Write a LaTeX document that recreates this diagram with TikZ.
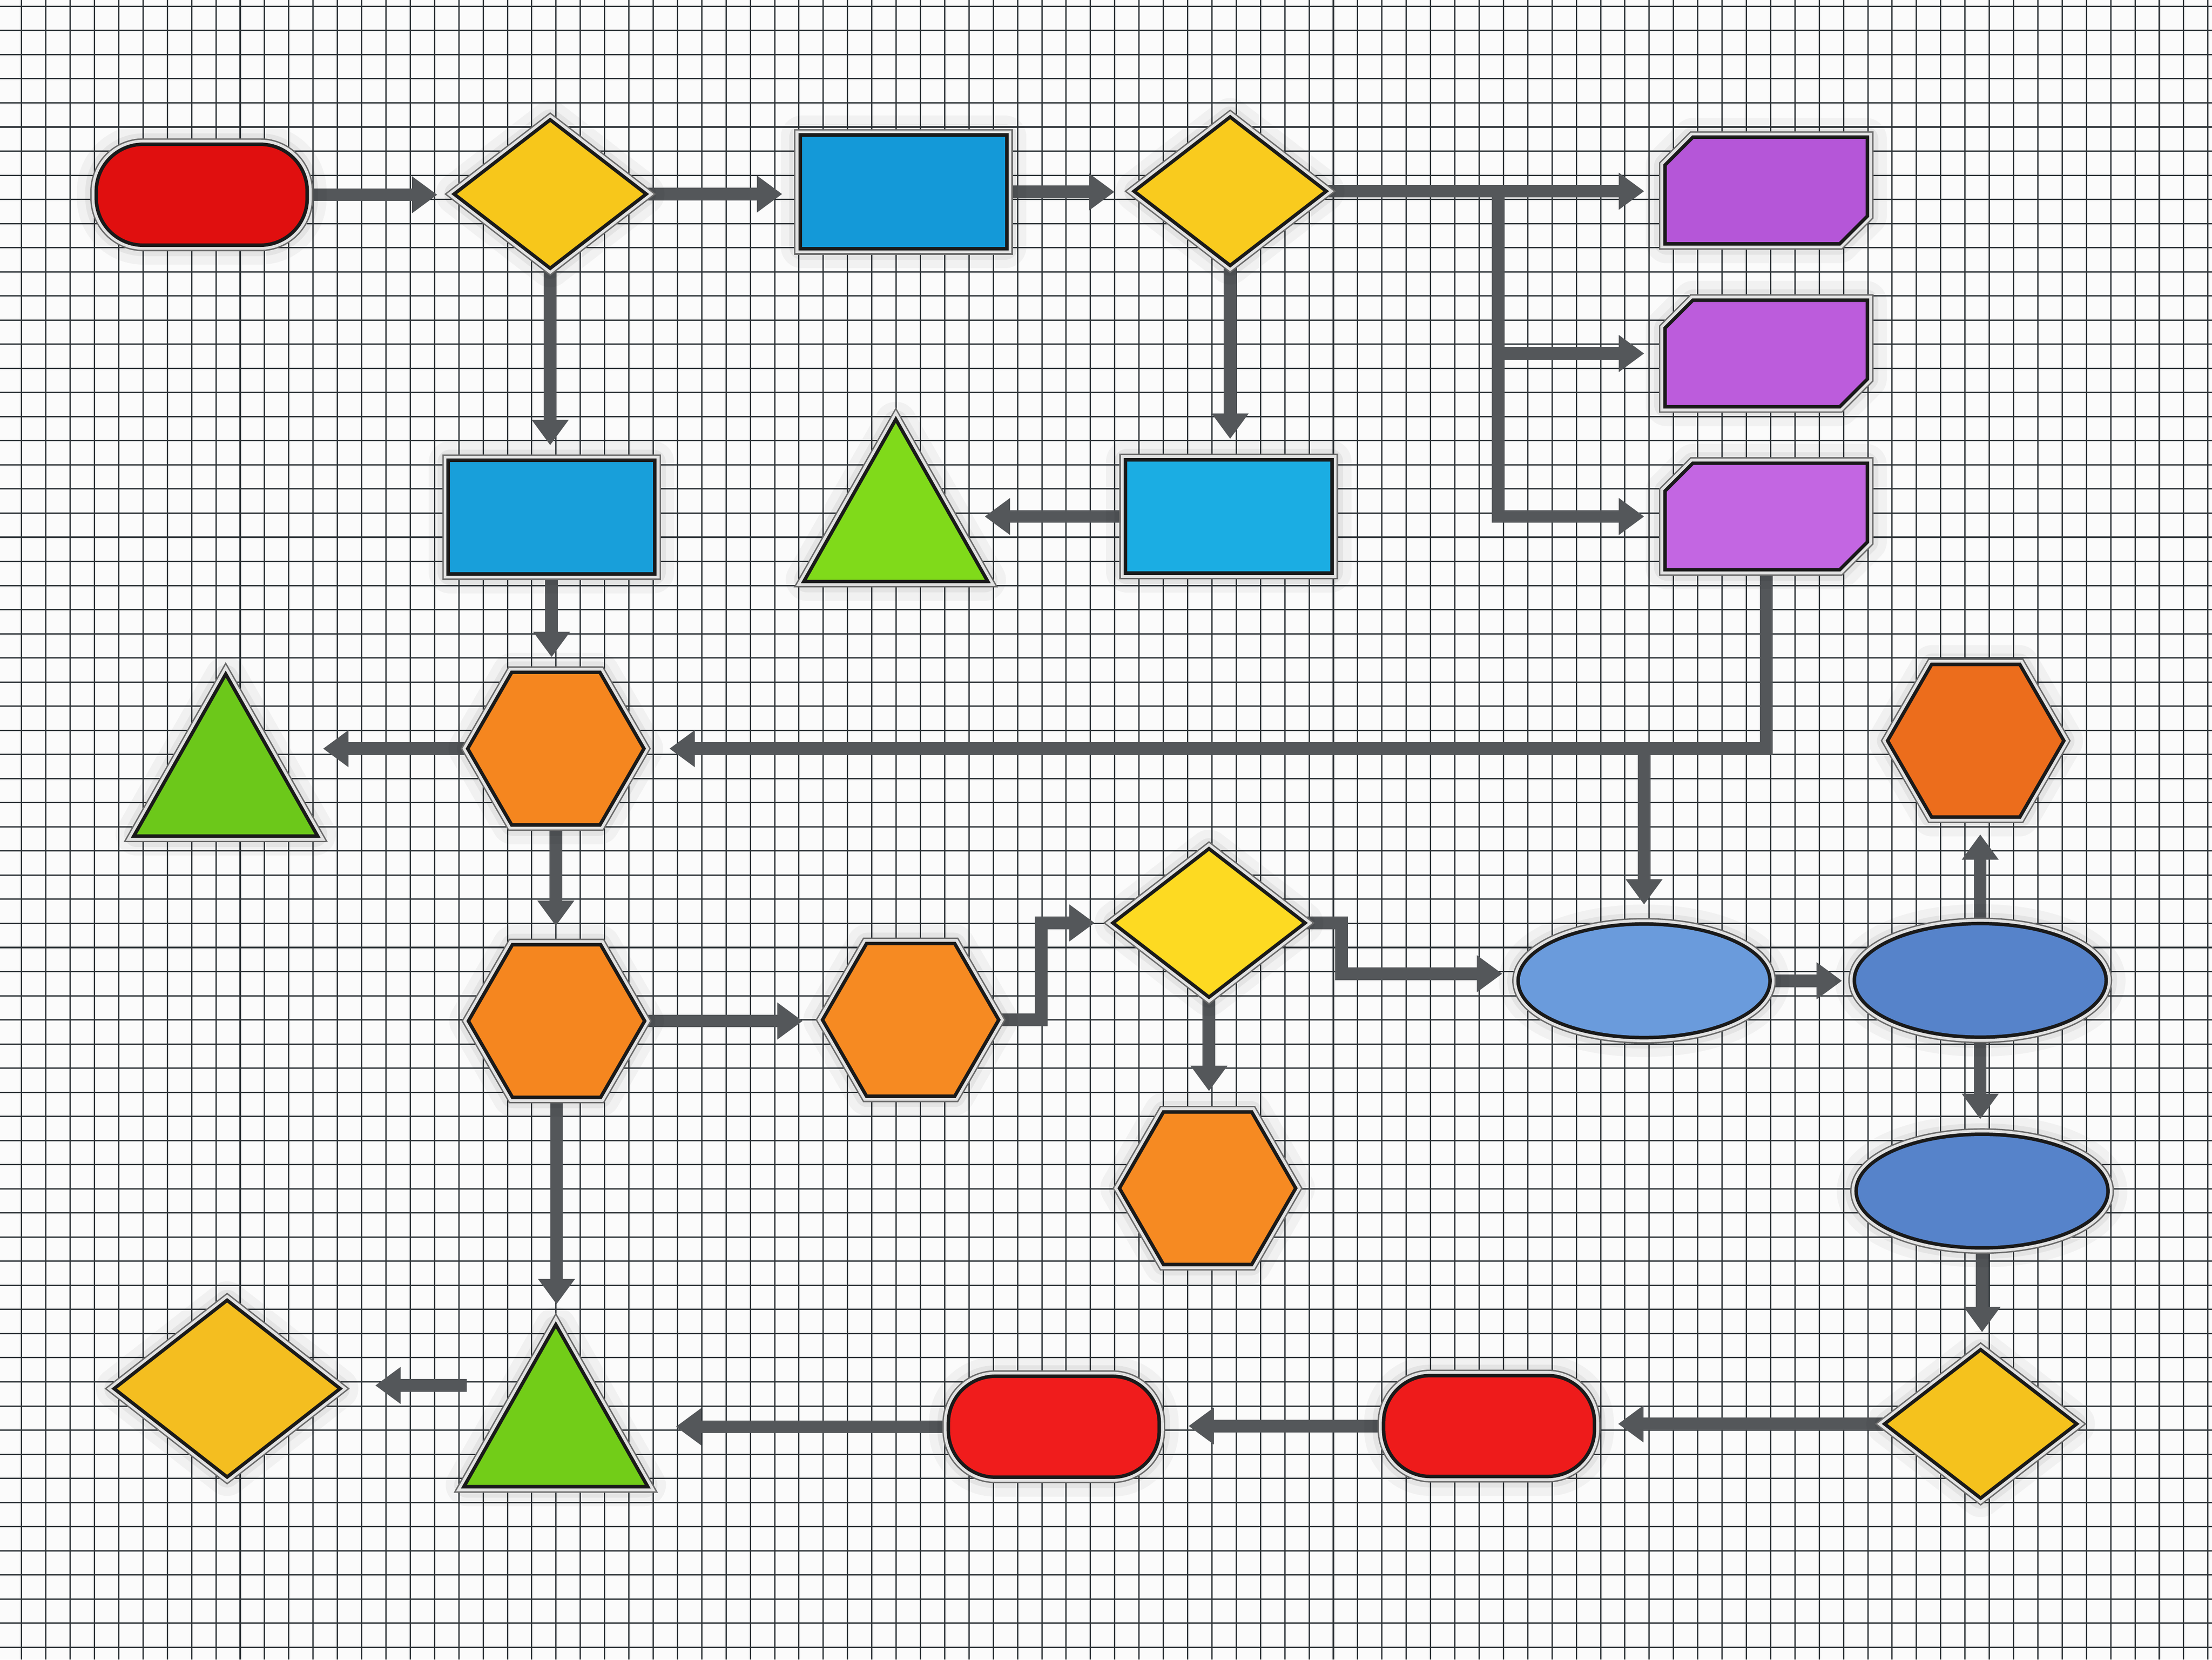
\documentclass[tikz,border=0pt]{standalone}
\usetikzlibrary{shapes.geometric,shapes.misc,arrows.meta,calc}
\pgfdeclarelayer{gridlayer}
\pgfdeclarelayer{connlayer}
\pgfsetlayers{gridlayer,connlayer,main}

\definecolor{bgc}{HTML}{FBFBFB}
\definecolor{gridc}{HTML}{30363A}
\definecolor{connc}{HTML}{54575A}
\definecolor{rimdark}{HTML}{6A6A6A}
\definecolor{rimsilver}{HTML}{E2E2E2}
\definecolor{rimblack}{HTML}{1A1A1A}
\definecolor{redA}{HTML}{E00F0F}
\definecolor{redB}{HTML}{EE1B1B}
\definecolor{redC}{HTML}{F01C1C}
\definecolor{yelA}{HTML}{F7C71B}
\definecolor{yelB}{HTML}{F9CB1E}
\definecolor{yelC}{HTML}{FDDA22}
\definecolor{yelD}{HTML}{F5C21D}
\definecolor{yelE}{HTML}{F4BE20}
\definecolor{bluA}{HTML}{1499D8}
\definecolor{bluB}{HTML}{1BADE3}
\definecolor{bluC}{HTML}{189FDA}
\definecolor{purA}{HTML}{B556D8}
\definecolor{purB}{HTML}{BC5CDC}
\definecolor{purC}{HTML}{C366E2}
\definecolor{grnA}{HTML}{80DA1A}
\definecolor{grnB}{HTML}{6CC81A}
\definecolor{grnC}{HTML}{72CD18}
\definecolor{orgA}{HTML}{F5861F}
\definecolor{orgB}{HTML}{F68A22}
\definecolor{orgC}{HTML}{EC6D1C}
\definecolor{ellA}{HTML}{6A9BDC}
\definecolor{ellB}{HTML}{5683CA}

\tikzset{
  fx/.style={
    preaction={draw=black, draw opacity=0.04, line width=30pt, line join=round},
    preaction={draw=black, draw opacity=0.05, line width=18pt, line join=round},
    preaction={draw=rimdark, line width=11pt},
    preaction={draw=rimsilver, line width=9pt},
    preaction={draw=rimblack, line width=5pt},
    fill=#1},
  shp/.style={inner sep=0pt, outer sep=0pt, fx=#1},
  pill/.style={shp=#1, rectangle, rounded corners=32pt, minimum width=147pt, minimum height=69pt},
  boxr/.style={shp=#1, rectangle, minimum width=144pt, minimum height=78pt},
  dmd/.style={shp=#1, diamond, minimum width=132pt, minimum height=102pt},
  bigdmd/.style={shp=#1, diamond, minimum width=156pt, minimum height=122pt},
  tagframe/.style={inner sep=0pt, outer sep=0pt, rectangle, minimum width=141pt, minimum height=73pt},
  hexa/.style={shp=#1, regular polygon, regular polygon sides=6, minimum size=122pt},
  ell/.style={shp=#1, ellipse, minimum width=176pt, minimum height=78pt},
  triframe/.style={inner sep=0pt, outer sep=0pt, rectangle, minimum width=126pt, minimum height=111pt},
  arr/.style={draw=connc, line width=9pt, -{Triangle[width=25pt,length=18pt]}, shorten >=14pt},
  gridline/.style={draw=gridc, line width=0.95pt},
}

\begin{document}
\begin{tikzpicture}[x=1pt,y=-1pt]
\useasboundingbox (0,0) rectangle (1568,1176);

\begin{pgfonlayer}{gridlayer}
  \fill[bgc] (0,0) rectangle (1568,1176);
  \foreach \i in {0,...,90} {\draw[gridline] ({15.3+17.22*\i},0) -- ({15.3+17.22*\i},1176);}
  \foreach \j in {0,...,68} {\draw[gridline] (0,{4.5+17.1*\j}) -- (1568,{4.5+17.1*\j});}
\end{pgfonlayer}

% row 1
\node[pill=redA] (pillA) at (143,138) {};
\node[dmd=yelA] (dia1) at (390,137.5) {};
\node[boxr=bluA] (rectA) at (640.5,136) {};
\node[dmd=yelB] (dia2) at (872,135.5) {};
\node[tagframe] (P1) at (1252,135) {};
\path[fx=purA] ($(P1.north west)+(19,0)$) -- (P1.north east) -- ($(P1.south east)+(0,-19)$)
  -- ($(P1.south east)+(-19,0)$) -- (P1.south west) -- ($(P1.north west)+(0,19)$) -- cycle;
\node[tagframe] (P2) at (1252,250.5) {};
\path[fx=purB] ($(P2.north west)+(19,0)$) -- (P2.north east) -- ($(P2.south east)+(0,-19)$)
  -- ($(P2.south east)+(-19,0)$) -- (P2.south west) -- ($(P2.north west)+(0,19)$) -- cycle;
\node[tagframe] (P3) at (1252,366) {};
\path[fx=purC] ($(P3.north west)+(19,0)$) -- (P3.north east) -- ($(P3.south east)+(0,-19)$)
  -- ($(P3.south east)+(-19,0)$) -- (P3.south west) -- ($(P3.north west)+(0,19)$) -- cycle;
% row 2
\node[boxr=bluC] (rectC) at (391,366.5) {};
\node[triframe] (tri1) at (635,355.25) {};
\path[fx=grnA] (tri1.north) -- (tri1.south east) -- (tri1.south west) -- cycle;
\node[boxr=bluB] (rectB) at (871,366) {};
% row 3
\node[triframe] (tri2) at (160,535.75) {};
\path[fx=grnB] (tri2.north) -- (tri2.south east) -- (tri2.south west) -- cycle;
\node[hexa=orgA] (hex1) at (394,530.5) {};
\node[hexa=orgC] (hex5) at (1400.5,524.9) {};
% row 4
\node[hexa=orgA] (hex2) at (394.5,723.5) {};
\node[hexa=orgB] (hex3) at (645.5,722.7) {};
\node[dmd=yelC] (dia3) at (857,654) {};
\node[ell=ellA] (ell1) at (1165.4,695) {};
\node[ell=ellB] (ell2) at (1403.7,694.7) {};
% row 5
\node[hexa=orgB] (hex4) at (856,842) {};
\node[ell=ellB] (ell3) at (1405,844) {};
% row 6
\node[bigdmd=yelE] (dia5) at (161,984) {};
\node[triframe] (tri3) at (394,996.75) {};
\path[fx=grnC] (tri3.north) -- (tri3.south east) -- (tri3.south west) -- cycle;
\node[pill=redC] (pillC) at (747,1011) {};
\node[pill=redB] (pillB) at (1055.5,1010.5) {};
\node[dmd=yelD] (dia4) at (1404,1009) {};

\coordinate (j1) at (1062,135.5);
\coordinate (j2) at (ell1 |- hex1.east);
\coordinate (t2e) at ($(tri2.east)+(6,0)$);
\coordinate (t3e) at ($(tri3.east)+(22,0)$);
\coordinate (t3w) at ([yshift=15pt]tri3.west);

\begin{pgfonlayer}{connlayer}
\draw[arr] (pillA) -- (pillA -| dia1.west);
\draw[arr] (dia1) -- (dia1 -| rectA.west);
\draw[arr, shorten >=16pt] (rectA) -- (rectA -| dia2.west);
\draw[arr, shorten >=16pt] (dia2) -- (dia2 -| P1.west);
\draw[arr, shorten >=16pt] (j1) |- (P2.west);
\draw[arr, shorten >=16pt] (j1) |- (P3.west);
\draw[arr, shorten >=12pt] (dia1) -- (dia1 |- rectC.north);
\draw[arr, shorten >=16pt] (dia2) -- (dia2 |- rectB.north);
\draw[arr, shorten >=0pt] (rectB) -- (rectB -| tri1.east);
\draw[arr, shorten >=12pt] (rectC) -- (rectC |- hex1.north);
\draw[arr, shorten >=0pt] (hex1) -- (hex1 -| t2e);
\draw[arr, shorten >=19.5pt] (P3) |- (hex1.east);
\draw[arr, shorten >=15pt] (j2) -- (ell1.north);
\draw[arr, shorten >=14.5pt] (hex1) -- (hex1 |- hex2.north);
\draw[arr, shorten >=15.5pt] (hex2) -- (hex2 -| hex3.west);
\draw[arr, shorten >=15pt] (hex3) -- ++(92.5,0) |- (dia3.west);
\draw[arr, shorten >=12.5pt] (dia3) -- ++(94,0) |- ([yshift=5pt]ell1.west);
\draw[arr, shorten >=16pt] (dia3) -- (dia3 |- hex4.north);
\draw[arr, shorten >=10pt] (ell1) -- (ell1 -| ell2.west);
\draw[arr, shorten >=13.5pt] (ell2) -- (ell2 |- hex5.south);
\draw[arr, shorten >=12pt] (ell2) -- (ell2 |- ell3.north);
\draw[arr, shorten >=14pt] (ell3) -- (ell3 |- dia4.north);
\draw[arr, shorten >=18pt] (dia4) -- (dia4 -| pillB.east);
\draw[arr, shorten >=22pt] (pillB) -- (pillB -| pillC.east);
\draw[arr, shorten >=0pt] (pillC) -- (pillC -| t3e);
\draw[arr, shorten >=17pt] (hex2) -- (hex2 |- tri3.north);
\draw[arr, shorten >=27pt] (t3w) -- (t3w -| dia5.east);
\end{pgfonlayer}
\end{tikzpicture}
\end{document}
